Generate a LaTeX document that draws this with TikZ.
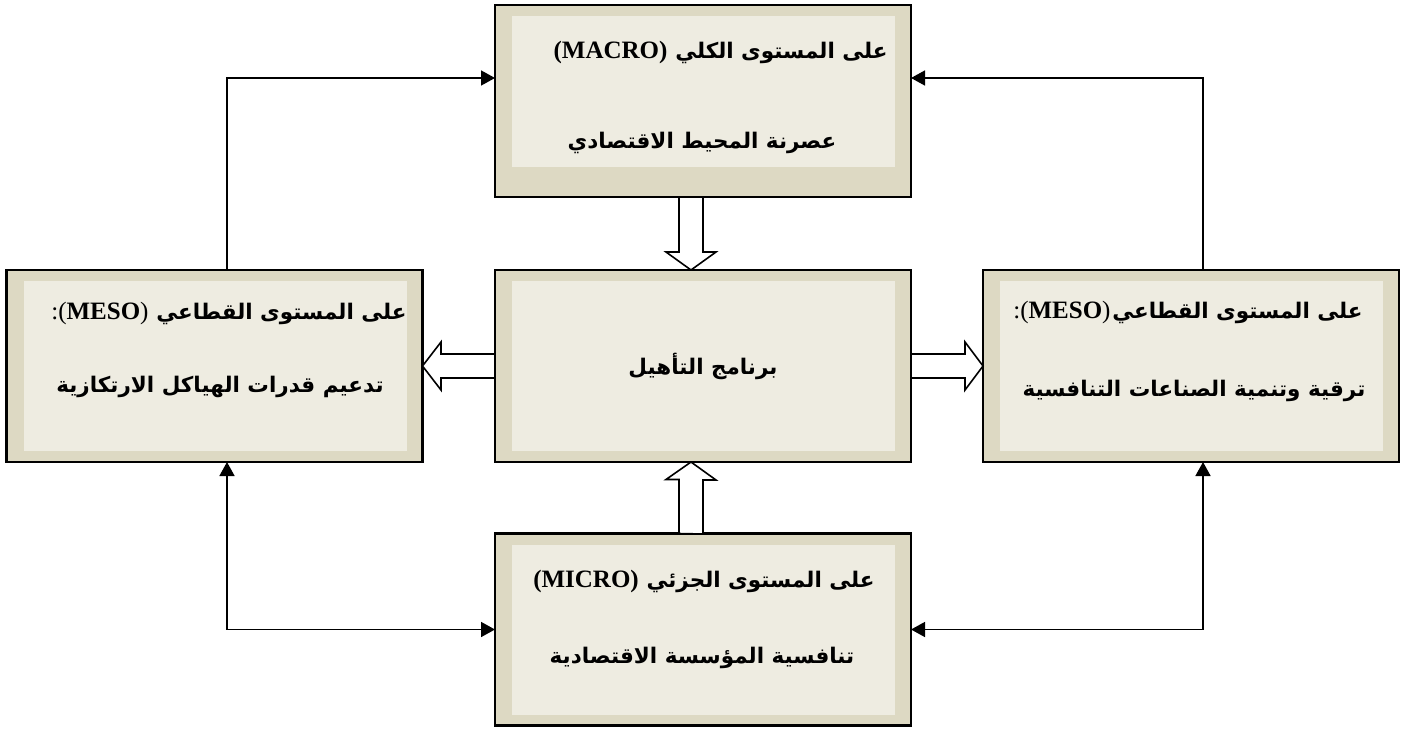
\documentclass[tikz,border=0pt]{standalone}
\usepackage{fontspec}
\setmainfont{Liberation Serif}
\newfontfamily\arabicfont[Script=Arabic,Scale=0.86]{DejaVu Sans}
\TeXXeTstate=1
\usetikzlibrary{arrows.meta,calc}
\definecolor{tanfill}{HTML}{DDD9C3}
\definecolor{paper}{HTML}{EEECE1}

\begin{document}
\begin{tikzpicture}[x=0.5pt,y=-0.5pt]
            \tikzstyle{outerbox}=[draw,line width=1.1pt,fill=tanfill,minimum width=208pt,minimum height=96pt,inner sep=0pt,outer sep=0pt]
            \tikzstyle{innerbox}=[fill=paper]
            \tikzstyle{fatarrow}=[draw,fill=white,line width=0.8pt,line join=miter]
            \tikzstyle{thinarrow}=[draw,line width=0.8pt,-{Triangle[length=7pt,width=7.5pt]}]
            \tikzstyle{bothways}=[draw,line width=0.8pt,{Triangle[length=7pt,width=7.5pt]}-{Triangle[length=7pt,width=7.5pt]}]
            \tikzstyle{txt}=[inner sep=0pt,font=\arabicfont\bfseries\fontsize{12.5}{15}\selectfont]
            \tikzstyle{latin}=[inner sep=0pt,anchor=base east,font=\bfseries\fontsize{12.5}{15}\selectfont]
            \useasboundingbox (0,0) rectangle (1406,728);
            % five boxes
            \node[outerbox] (macro) at (703,101) {};
            \node[outerbox] (prog) at (703,366) {};
            \node[outerbox] (micro) at (703,629.5) {};
            \node[outerbox] (meso1) at (214.5,366) {};
            \node[outerbox] (meso2) at (1191,366) {};
            \fill[innerbox] ($(macro.north west)+(17,11)$) rectangle ($(macro.south east)+(-16,-30)$);
            \fill[innerbox] ($(prog.north west)+(17,11)$) rectangle ($(prog.south east)+(-16,-11)$);
            \fill[innerbox] ($(micro.north west)+(17,11)$) rectangle ($(micro.south east)+(-16,-11)$);
            \fill[innerbox] ($(meso1.north west)+(17,11)$) rectangle ($(meso1.south east)+(-16,-11)$);
            \fill[innerbox] ($(meso2.north west)+(17,11)$) rectangle ($(meso2.south east)+(-16,-11)$);
            % texts
            \node[txt,anchor=base east] (macro1) at (888,58) {\beginR على المستوى الكلي\endR};
            \node[latin] (macro1l) at ($(macro1.base west)+(-7,0)$) {(MACRO)};
            \node[txt,anchor=base] (macro2) at (702,148) {\beginR عصرنة المحيط الاقتصادي\endR};
            \node[txt,anchor=base] (progtxt) at (703,374) {\beginR برنامج التأهيل\endR};
            \node[txt,anchor=base east] (meso11) at (407,319) {\beginR على المستوى القطاعي\endR};
            \node[latin] (meso11l) at ($(meso11.base west)+(-7,0)$) {\mdseries :(\textbf{MESO})};
            \node[txt,anchor=base] (meso12) at (220,392) {\beginR تدعيم قدرات الهياكل الارتكازية\endR};
            \node[txt,anchor=base east] (meso21) at (1363,318) {\beginR على المستوى القطاعي\endR};
            \node[latin] (meso21l) at ($(meso21.base west)+(-1,0)$) {\mdseries :(\textbf{MESO})};
            \node[txt,anchor=base] (meso22) at (1194,396) {\beginR ترقية وتنمية الصناعات التنافسية\endR};
            \node[txt,anchor=base east] (micro1) at (875,587) {\beginR على المستوى الجزئي\endR};
            \node[latin] (micro1l) at ($(micro1.base west)+(-7,0)$) {(MICRO)};
            \node[txt,anchor=base] (micro2) at (702,663) {\beginR تنافسية المؤسسة الاقتصادية\endR};
            % thin connectors
            \draw[thinarrow] ($(meso1.north)+(12.5,0)$) |- ($(macro.west)+(0,-23)$);
            \draw[thinarrow] ($(meso2.north)+(12,0)$) |- ($(macro.east)+(0,-23)$);
            \draw[bothways] ($(meso1.south)+(12.5,0)$) |- (micro.west);
            \draw[bothways] ($(meso2.south)+(12,0)$) |- (micro.east);
            % hollow arrows
            \draw[fatarrow] ($(macro.south)+(-24,0)$) -- ++(0,55) -- ++(-13,0) -- ($(prog.north)+(-12,0)$) -- ++(25,-18) -- ++(-13,0) -- ++(0,-55) -- cycle;
            \draw[fatarrow] ($(micro.north)+(-24,0)$) -- ++(0,-54) -- ++(-13,0) -- ($(prog.south)+(-12,0)$) -- ++(25,18) -- ++(-13,0) -- ++(0,54) -- cycle;
            \draw[fatarrow] ($(prog.west)+(0,-12)$) -- ++(-54,0) -- ++(0,-12) -- (meso1.east) -- ++(18.5,24) -- ++(0,-12) -- ++(54,0) -- cycle;
            \draw[fatarrow] ($(prog.east)+(0,-12)$) -- ++(54,0) -- ++(0,-12) -- (meso2.west) -- ++(-18,24) -- ++(0,-12) -- ++(-54,0) -- cycle;
        \end{tikzpicture}
\end{document}
